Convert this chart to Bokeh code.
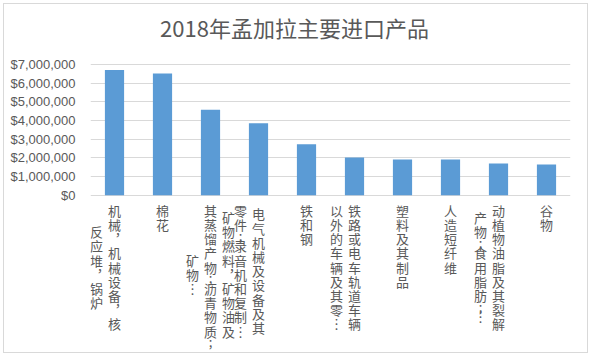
from bokeh.plotting import figure
from bokeh.models import ColumnDataSource, FixedTicker, NumeralTickFormatter, Range1d, Label
from bokeh.core.properties import value
from bokeh.embed import file_html
from bokeh.resources import INLINE

# ---- data ----
title_text = "2018年孟加拉主要进口产品"
categories = [
    "机械，机械设备，核反应堆，锅炉",
    "棉花",
    "矿物燃料，矿物油及其蒸馏产物;沥青物质;矿物…",
    "电气机械及设备及其零件;录音机和复制…",
    "铁和钢",
    "铁路或电车轨道车辆以外的车辆及其零…",
    "塑料及其制品",
    "人造短纤维",
    "动植物油脂及其裂解产物;食用脂肪;…",
    "谷物",
]
values = [6_700_000, 6_520_000, 4_570_000, 3_860_000, 2_730_000,
          2_020_000, 1_910_000, 1_910_000, 1_700_000, 1_640_000]
# wrapped label columns (first column is the right-most one)
label_columns = [
    ["机械，机械设备，核", "反应堆，锅炉"],
    ["棉花"],
    ["矿物燃料，矿物油及", "其蒸馏产物;沥青物质;", "矿物…"],
    ["电气机械及设备及其", "零件;录音机和复制…"],
    ["铁和钢"],
    ["铁路或电车轨道车辆", "以外的车辆及其零…"],
    ["塑料及其制品"],
    ["人造短纤维"],
    ["动植物油脂及其裂解", "产物;食用脂肪;…"],
    ["谷物"],
]
y_ticks = [0, 1_000_000, 2_000_000, 3_000_000, 4_000_000, 5_000_000, 6_000_000, 7_000_000]

# ---- layout / style ----
GREY = "#595959"
BAR = "#5B9BD5"
GRID = "#d9d9d9"
FRAME_W = 480
TOP_PX = 60               # frame top -> top tick
VALUE_PX = 130.7          # top tick -> $0
BELOW_PX = 155.3          # $0 -> frame bottom (label area)
FRAME_H = round(TOP_PX + VALUE_PX + BELOW_PX)
TITLE_PX = 22.5           # frame top -> title centre
TITLE_SHIFT = -36         # title centre relative to plot-area centre
LABEL_FS = 13
CELL_PX = 14.2            # vertical pitch of stacked characters
HALF_CHARS = ";"          # half-height characters in vertical text
COL_GAP = 18
LABEL_TOP = 8

y_tick_top = y_ticks[-1]
per_px = y_tick_top / VALUE_PX
y_end = y_tick_top + TOP_PX * per_px
y_start = -BELOW_PX * per_px

p = figure(x_range=categories, y_range=Range1d(y_start, y_end),
           frame_width=FRAME_W, frame_height=FRAME_H,
           min_border_left=86, min_border_right=17, min_border_top=0, min_border_bottom=2,
           output_backend="svg", toolbar_location=None,
           styles={"margin-left": "3px", "margin-top": "3px",
                   "border": "1px solid #d9d9d9"})
p.outline_line_color = None
p.background_fill_color = "white"
p.border_fill_color = "white"

p.add_layout(Label(x=len(categories) / 2, y=y_end - TITLE_PX * per_px,
                   x_offset=TITLE_SHIFT, text=title_text,
                   text_font="Noto Sans CJK SC", text_font_size="22px",
                   text_color=GREY, text_align="center", text_baseline="middle"))

p.xaxis.visible = False
p.xgrid.grid_line_color = None
p.yaxis.ticker = FixedTicker(ticks=y_ticks)
p.yaxis.formatter = NumeralTickFormatter(format="$0,0")
p.yaxis.axis_line_color = None
p.yaxis.major_tick_line_color = None
p.yaxis.minor_tick_line_color = None
p.yaxis.major_label_standoff = 9
p.yaxis.major_label_text_font = "Liberation Sans"
p.yaxis.major_label_text_font_size = "13px"
p.yaxis.major_label_text_color = GREY
p.ygrid.grid_line_color = GRID
p.ygrid.grid_line_width = 1

p.vbar(x=categories, top=values, width=0.4, color=BAR, line_color=None)

# vertical (stacked, upright) category labels, one text item per character
def to_vertical(s):
    return list(s.replace("，", "︐").replace("…", "︙"))

def advance(ch):
    return CELL_PX * (0.5 if ch in HALF_CHARS else 1.0)

lx, lt, lxo, lyo = [], [], [], []
for cat, cols in zip(categories, label_columns):
    n = len(cols)
    chars_per_col = [to_vertical(c) for c in cols]
    lengths = [sum(advance(ch) for ch in chars) for chars in chars_per_col]
    block = max(lengths)
    for i, (chars, length) in enumerate(zip(chars_per_col, lengths)):
        y = LABEL_TOP + (block - length) / 2
        for ch in chars:
            a = advance(ch)
            lx.append(cat)
            lt.append(ch)
            lxo.append(COL_GAP * ((n - 1) // 2 - i))
            lyo.append(y + a / 2)
            y += a

src = ColumnDataSource(dict(x=lx, y=[0] * len(lx), text=lt, xo=lxo, yo=lyo))
p.text(x="x", y="y", text="text", x_offset="xo", y_offset="yo", source=src,
       text_font=value("Noto Sans CJK SC"), text_font_size=f"{LABEL_FS}px",
       text_color=GREY, text_align="center", text_baseline="middle")

open("out.html", "w").write(file_html(p, INLINE))
